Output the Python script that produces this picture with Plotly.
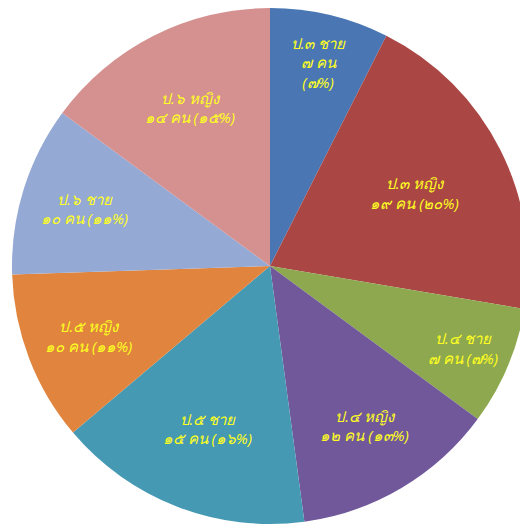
import plotly.graph_objects as go

# Data
groups = ["ป.๓ ชาย", "ป.๓ หญิง", "ป.๔ ชาย", "ป.๔ หญิง", "ป.๕ ชาย", "ป.๕ หญิง", "ป.๖ ชาย", "ป.๖ หญิง"]
counts = [7, 19, 7, 12, 15, 10, 10, 14]
colors = ["#4A77B4", "#AA4644", "#8DA84E", "#71589A", "#4699B3", "#E0843E", "#95A9D5", "#D59090"]

THAI_DIGITS = str.maketrans("0123456789", "๐๑๒๓๔๕๖๗๘๙")
total = sum(counts)
texts = []
for i, (g, c) in enumerate(zip(groups, counts)):
    pct = round(c * 100 / total)
    n = str(c).translate(THAI_DIGITS)
    p = str(pct).translate(THAI_DIGITS)
    sep = "<br>" if i == 0 else " "
    texts.append(f"{g}<br>{n} คน{sep}({p}%)")

fig = go.Figure(go.Pie(
    labels=groups,
    values=counts,
    text=texts,
    textinfo="text",
    textposition="inside",
    insidetextorientation="horizontal",
    sort=False,
    direction="clockwise",
    rotation=0,
    marker=dict(colors=colors, line=dict(width=0)),
    textfont=dict(color="#FFFF22", size=15, style="italic"),
    showlegend=False,
    hoverinfo="label+value+percent",
))

fig.update_layout(
    width=528, height=532,
    margin=dict(l=4, r=8, t=0, b=16),
    paper_bgcolor="white",
    plot_bgcolor="white",
)

fig.write_html("out.html")
